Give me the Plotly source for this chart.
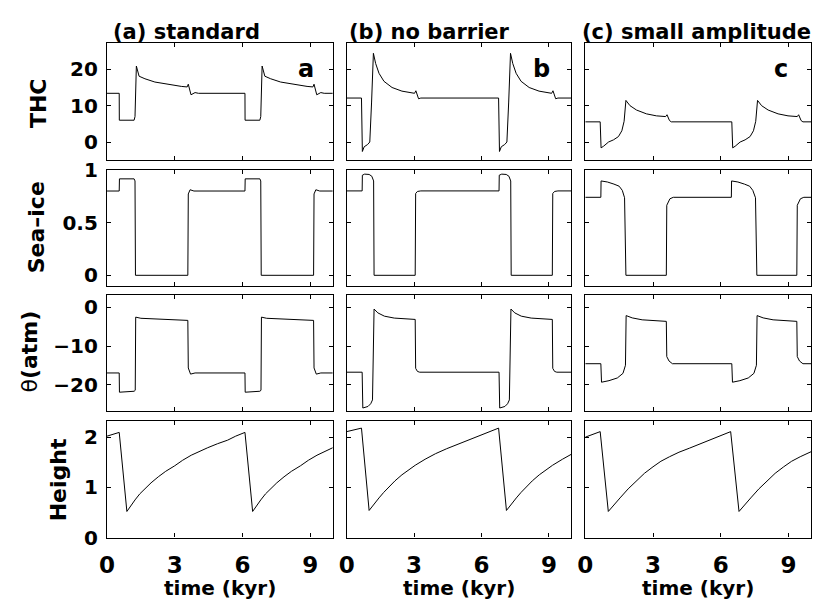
import plotly.graph_objects as go

# ---------------- data ----------------
# (a) standard
t_thc_a = [0, 0.54, 0.545, 1.2, 1.24, 1.27, 1.3, 1.42, 1.68, 2.12, 2.7, 3.29, 3.55, 3.6, 3.72, 3.9, 4.05,
           6.11, 6.115, 6.77, 6.81, 6.84, 6.87, 6.99, 7.25, 7.69, 8.27, 8.86, 9.12, 9.17, 9.29, 9.47, 9.62, 10]
thc_a = [13.4, 13.4, 6.0, 6.0, 7.0, 12.0, 20.9, 18.1, 17.4, 16.5, 15.8, 15.3, 15.15, 15.9, 13.0, 13.6, 13.4,
         13.4, 6.0, 6.0, 7.0, 12.0, 20.9, 18.1, 17.4, 16.5, 15.8, 15.3, 15.15, 15.9, 13.0, 13.6, 13.4, 13.4]

t_ice_a = [0, 0.54, 0.55, 1.2, 1.24, 1.26, 3.58, 3.6, 3.68, 3.85,
           6.11, 6.12, 6.77, 6.81, 6.83, 9.15, 9.17, 9.25, 9.42, 10]
ice_a = [0.804, 0.804, 0.92, 0.92, 0.9, 0.0, 0.0, 0.776, 0.816, 0.804,
         0.804, 0.92, 0.92, 0.9, 0.0, 0.0, 0.776, 0.816, 0.804, 0.804]

t_tha_a = [0, 0.54, 0.55, 1.2, 1.25, 1.27, 1.5, 2.4, 3.58, 3.6, 3.7, 3.9,
           6.11, 6.12, 6.77, 6.82, 6.84, 7.07, 7.97, 9.15, 9.17, 9.27, 9.47, 10]
tha_a = [-17, -17, -22, -21.75, -21.5, -2.5, -2.8, -3.1, -3.35, -15.7, -17.3, -17,
         -17, -22, -21.75, -21.5, -2.5, -2.8, -3.1, -3.35, -15.7, -17.3, -17, -17]

t_hgt_a = [0, 0.54, 0.88, 1.05, 1.24, 1.45, 1.68, 1.95, 2.27, 2.6, 3.0, 3.35, 3.73, 4.1, 4.46, 4.9, 5.34, 5.7, 6.11,
           6.45, 6.62, 6.81, 7.02, 7.25, 7.52, 7.84, 8.17, 8.57, 8.92, 9.3, 9.67, 10]
hgt_a = [2.02, 2.095, 0.52, 0.635, 0.75, 0.87, 0.98, 1.09, 1.21, 1.32, 1.43, 1.54, 1.64, 1.72, 1.79, 1.87, 1.94, 2.02, 2.095,
         0.52, 0.635, 0.75, 0.87, 0.98, 1.09, 1.21, 1.32, 1.43, 1.54, 1.64, 1.72, 1.79]

# (b) no barrier
t_thc_b = [0, 0.66, 0.70, 0.78, 0.93, 1.03, 1.11, 1.19, 1.29, 1.44, 1.66, 2.02, 2.46, 3.02, 3.08, 3.2, 3.3,
           6.76, 6.80, 6.88, 7.03, 7.13, 7.21, 7.29, 7.39, 7.54, 7.76, 8.12, 8.56, 9.12, 9.18, 9.30, 9.40, 10]
thc_b = [12.1, 12.1, -2.6, -1.3, -0.7, 0.0, 11.0, 24.4, 21.6, 18.9, 16.7, 15.0, 14.0, 13.4, 14.1, 11.9, 12.1,
         12.1, -2.6, -1.3, -0.7, 0.0, 11.0, 24.4, 21.6, 18.9, 16.7, 15.0, 14.0, 13.4, 14.1, 11.9, 12.1, 12.1]

t_ice_b = [0, 0.69, 0.70, 0.8, 1.0, 1.12, 1.2, 1.22, 3.05, 3.07, 3.15, 3.3,
           6.78, 6.79, 6.9, 7.1, 7.22, 7.3, 7.32, 9.15, 9.17, 9.25, 9.4, 10]
ice_b = [0.805, 0.805, 0.955, 0.965, 0.962, 0.945, 0.9, 0.0, 0.0, 0.78, 0.80, 0.805,
         0.805, 0.955, 0.965, 0.962, 0.945, 0.9, 0.0, 0.0, 0.78, 0.80, 0.805, 0.805]

t_tha_b = [0, 0.69, 0.72, 0.95, 1.07, 1.15, 1.22, 1.39, 1.68, 2.12, 3.05, 3.07, 3.15, 3.25,
           6.78, 6.81, 7.04, 7.16, 7.24, 7.31, 7.48, 7.77, 8.21, 9.15, 9.17, 9.25, 9.35, 10]
tha_b = [-16.8, -16.8, -26.1, -25.7, -25.0, -24.0, -0.4, -1.4, -2.25, -2.75, -3.1, -15.8, -16.6, -16.8,
         -16.8, -26.1, -25.7, -25.0, -24.0, -0.4, -1.4, -2.25, -2.75, -3.1, -15.8, -16.6, -16.8, -16.8]

t_hgt_b = [0, 0.66, 1.0, 1.2, 1.44, 1.65, 1.88, 2.15, 2.46, 2.75, 3.05, 3.49, 3.95, 4.45, 5.0, 5.54, 6.15, 6.76,
           7.11, 7.31, 7.55, 7.76, 7.99, 8.26, 8.57, 8.86, 9.16, 9.6, 10]
hgt_b = [2.11, 2.18, 0.54, 0.66, 0.79, 0.9, 1.01, 1.13, 1.25, 1.35, 1.44, 1.56, 1.67, 1.77, 1.87, 1.96, 2.07, 2.18,
         0.54, 0.66, 0.79, 0.9, 1.01, 1.13, 1.25, 1.35, 1.44, 1.56, 1.66]

# (c) small amplitude
t_thc_c = [0, 0.66, 0.70, 0.81, 1.03, 1.25, 1.47, 1.62, 1.72, 1.8, 1.98, 2.27, 2.71, 3.15, 3.56, 3.62, 3.73, 3.81,
           6.49, 6.53, 6.64, 6.86, 7.08, 7.30, 7.45, 7.55, 7.63, 7.81, 8.10, 8.54, 8.98, 9.39, 9.45, 9.56, 9.64, 10]
thc_c = [5.55, 5.55, -1.6, -1.15, 0.0, 0.6, 1.5, 3.1, 5.7, 11.45, 10.0, 8.8, 7.75, 7.2, 7.0, 7.5, 5.9, 5.55,
         5.55, -1.6, -1.15, 0.0, 0.6, 1.5, 3.1, 5.7, 11.45, 10.0, 8.8, 7.75, 7.2, 7.0, 7.5, 5.9, 5.55, 5.55]

t_ice_c = [0, 0.69, 0.7, 0.98, 1.27, 1.5, 1.64, 1.74, 1.8, 3.59, 3.61, 3.75, 3.9,
           6.47, 6.48, 6.76, 7.05, 7.28, 7.42, 7.54, 7.6, 9.37, 9.39, 9.53, 9.68, 10]
ice_c = [0.744, 0.744, 0.90, 0.89, 0.87, 0.85, 0.81, 0.74, 0.0, 0.0, 0.668, 0.73, 0.744,
         0.744, 0.90, 0.89, 0.87, 0.85, 0.81, 0.74, 0.0, 0.0, 0.668, 0.73, 0.744, 0.744]

t_tha_c = [0, 0.69, 0.72, 1.05, 1.42, 1.67, 1.78, 1.81, 2.08, 2.52, 3.59, 3.61, 3.71, 3.86,
           6.49, 6.52, 6.85, 7.22, 7.47, 7.58, 7.61, 7.88, 8.32, 9.37, 9.39, 9.49, 9.64, 10]
tha_c = [-14.6, -14.6, -19.4, -19.0, -18.3, -17.1, -15.0, -2.1, -2.7, -3.2, -3.6, -12.75, -13.9, -14.6,
         -14.6, -19.4, -19.0, -18.3, -17.1, -15.0, -2.1, -2.7, -3.2, -3.6, -12.75, -13.9, -14.6, -14.6]

t_hgt_c = [0, 0.66, 1.02, 1.25, 1.54, 1.9, 2.27, 2.62, 3.0, 3.35, 3.73, 4.15, 4.61, 5.05, 5.49, 5.95, 6.44,
           6.81, 7.04, 7.33, 7.69, 8.06, 8.41, 8.79, 9.14, 9.52, 9.94, 10]
hgt_c = [2.0, 2.11, 0.52, 0.645, 0.79, 0.97, 1.14, 1.28, 1.41, 1.52, 1.61, 1.70, 1.78, 1.86, 1.94, 2.02, 2.11,
         0.52, 0.645, 0.79, 0.97, 1.14, 1.28, 1.41, 1.52, 1.61, 1.70, 1.71]

col_titles = ["(a) standard", "(b) no barrier", "(c) small amplitude"]
panel_letters = ["a", "b", "c"]
row_labels = ["THC", "Sea–ice", "θ<b>(atm)</b>", "Height"]
x_ticks = [0, 3, 6, 9]
x_tick_labels = ["0", "3", "6", "9"]
y_ticks = [[0, 10, 20], [0, 0.5, 1], [-20, -10, 0], [0, 1, 2]]
y_tick_labels = [["0", "10", "20"], ["0", "0.5", "1"], ["−20", "−10", "0"], ["0", "1", "2"]]
x_label = "time (kyr)"

series = [
    [(t_thc_a, thc_a), (t_thc_b, thc_b), (t_thc_c, thc_c)],
    [(t_ice_a, ice_a), (t_ice_b, ice_b), (t_ice_c, ice_c)],
    [(t_tha_a, tha_a), (t_tha_b, tha_b), (t_tha_c, tha_c)],
    [(t_hgt_a, hgt_a), (t_hgt_b, hgt_b), (t_hgt_c, hgt_c)],
]

# ---------------- layout geometry (pixels) ----------------
W, H = 815, 616
col_px = [(100, 328), (342, 569), (583, 811)]
row_px = [(33, 155), (165, 286), (295, 416), (426, 547)]
y_ranges = [[-5, 27.3], [-0.105, 1.006], [-27, 3.25], [0, 2.32]]

FONT = "DejaVu Sans"

fig = go.Figure()
layout = dict(
    width=W, height=H, margin=dict(l=0, r=0, t=0, b=0),
    paper_bgcolor="white", plot_bgcolor="white", showlegend=False,
    font=dict(family=FONT, color="black"),
)

for r in range(4):
    for c in range(3):
        idx = r * 3 + c + 1
        xs, ys = series[r][c]
        fig.add_trace(go.Scatter(x=xs, y=ys, mode="lines",
                                 line=dict(color="black", width=1),
                                 xaxis=f"x{idx}", yaxis=f"y{idx}", hoverinfo="skip"))
        x0, x1 = col_px[c]
        y0, y1 = row_px[r]
        xa = dict(domain=[x0 / W, x1 / W], range=[0, 10], anchor=f"y{idx}",
                  showgrid=False, zeroline=False, showline=True, linecolor="black", linewidth=1.3,
                  mirror="ticks", ticks="inside", ticklen=4, tickwidth=1, tickcolor="black",
                  tickvals=x_ticks, ticktext=x_tick_labels,
                  showticklabels=(r == 3), ticklabelstandoff=7,
                  tickfont=dict(family=FONT, size=23, weight="bold", color="black"))
        ya = dict(domain=[1 - y1 / H, 1 - y0 / H], range=y_ranges[r], anchor=f"x{idx}",
                  showgrid=False, zeroline=False, showline=True, linecolor="black", linewidth=1.3,
                  mirror="ticks", ticks="inside", ticklen=4, tickwidth=1, tickcolor="black",
                  tickvals=y_ticks[r], ticktext=y_tick_labels[r],
                  showticklabels=(c == 0), ticklabelstandoff=4,
                  tickfont=dict(family=FONT, size=20, weight="bold", color="black"))
        sfx = "" if idx == 1 else str(idx)
        layout["xaxis" + sfx] = xa
        layout["yaxis" + sfx] = ya

annotations = []
# column titles
title_pos = [(104, "left"), (342, "left"), (813, "right")]
for c in range(3):
    xp, anc = title_pos[c]
    annotations.append(dict(text=col_titles[c], x=xp / W, y=1 - 22 / H, xref="paper", yref="paper",
                            xanchor=anc, yanchor="middle", showarrow=False,
                            font=dict(family=FONT, size=21, weight="bold", color="black")))
# panel letters
letter_x = [301, 539, 781]
for c in range(3):
    annotations.append(dict(text=panel_letters[c], x=letter_x[c] / W, y=1 - 60 / H, xref="paper", yref="paper",
                            xanchor="center", yanchor="middle", showarrow=False,
                            font=dict(family=FONT, size=24, weight="bold", color="black")))
# row labels
row_label_pos = [(31, 96), (29, 225), (22, 354), (51, 487)]
for r in range(4):
    xp, yp = row_label_pos[r]
    annotations.append(dict(text=row_labels[r], x=xp / W, y=1 - yp / H, xref="paper", yref="paper",
                            xanchor="center", yanchor="middle", textangle=-90, showarrow=False,
                            font=dict(family=FONT, size=22, weight=("normal" if r == 2 else "bold"),
                                      color="black")))
# x labels
for c in range(3):
    xc = (col_px[c][0] + col_px[c][1]) / 2
    annotations.append(dict(text=x_label, x=xc / W, y=1 - 599 / H, xref="paper", yref="paper",
                            xanchor="center", yanchor="middle", showarrow=False,
                            font=dict(family=FONT, size=20, weight="bold", color="black")))
layout["annotations"] = annotations

fig.update_layout(**layout)
fig.write_html("out.html")
